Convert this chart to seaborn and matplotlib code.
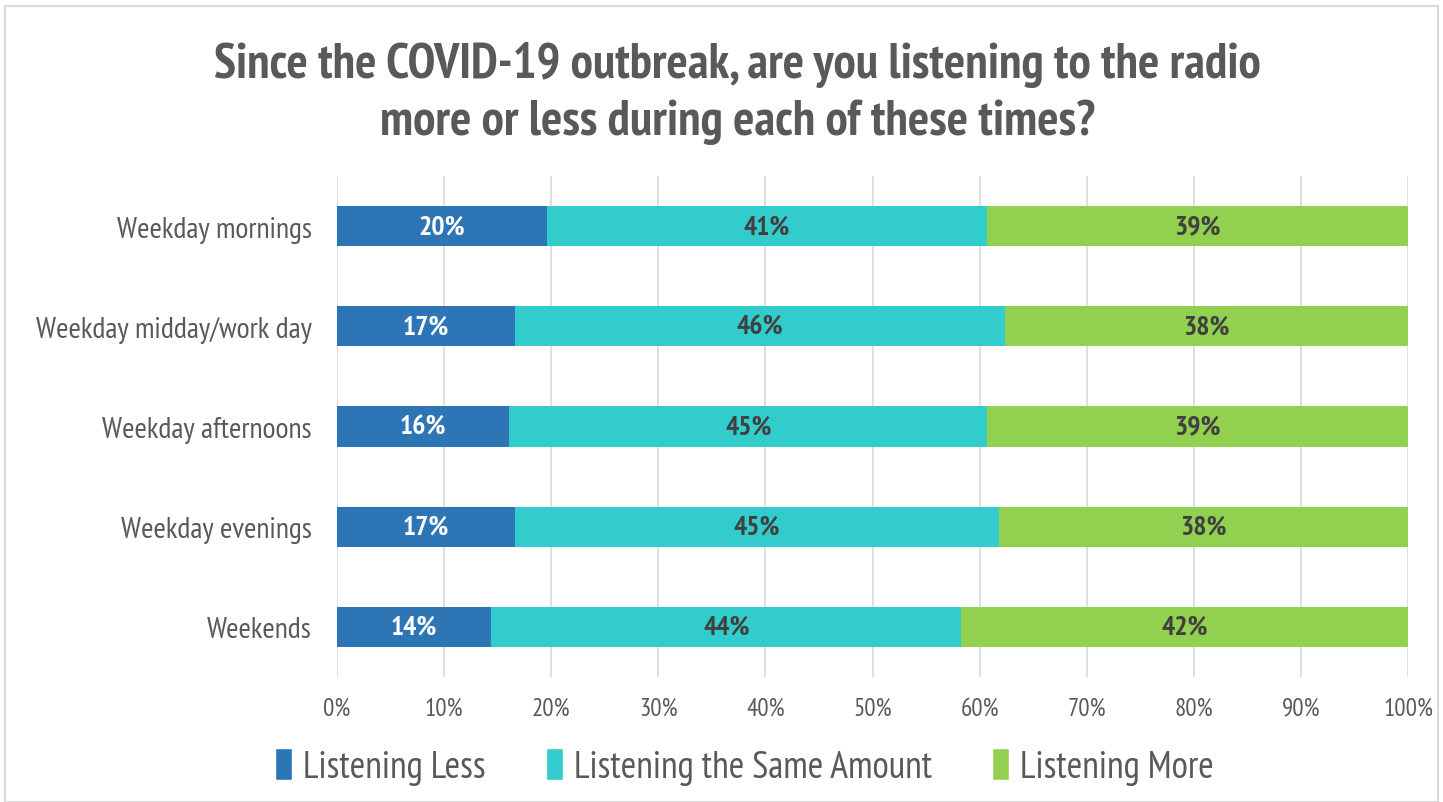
import pandas as pd
import numpy as np
import seaborn as sns
import matplotlib.pyplot as plt
from matplotlib.patches import Patch, Rectangle
from matplotlib import font_manager

# data
times = ['Weekday mornings', 'Weekday midday/work day', 'Weekday afternoons',
         'Weekday evenings', 'Weekends']
less = [19.6, 16.6, 16.1, 16.6, 14.4]
same = [41.1, 45.8, 44.6, 45.2, 43.9]
more = [39.3, 37.6, 39.3, 38.2, 41.7]
series = ['Listening Less', 'Listening the Same Amount', 'Listening More']
colors = ['#2E75B6', '#33CCCC', '#92D050']

sns.set_style('white')
names = {f.name for f in font_manager.fontManager.ttflist}
fam = 'DejaVu Sans'
for cand in ['PT Sans Narrow', 'Liberation Sans Narrow', 'Archivo Narrow', 'Roboto Condensed']:
    if cand in names:
        fam = cand
        break
plt.rcParams['font.family'] = [fam, 'DejaVu Sans']
gray = '#595959'

df = pd.DataFrame({'time': times, 'less': less, 'same': same, 'more': more})
df['c1'] = df['less']
df['c2'] = df['less'] + df['same']
df['c3'] = df['c2'] + df['more']

fig = plt.figure(figsize=(14.43, 8.03), dpi=100)
ax = fig.add_axes([337 / 1443, 1 - 678 / 803, 1071 / 1443, 501 / 803])

# stacked bars: draw the cumulative totals back to front
for col, c in zip(['c3', 'c2', 'c1'], colors[::-1]):
    sns.barplot(data=df, y='time', x=col, color=c, width=0.4, ax=ax,
                orient='h', saturation=1, linewidth=0)

for i in range(len(times)):
    starts = [0, df['c1'][i], df['c2'][i]]
    vals = [less[i], same[i], more[i]]
    for s, v, k in zip(starts, vals, range(3)):
        ax.text(s + v / 2, i, f'{round(v):.0f}%', ha='center', va='center',
                fontsize=20, fontweight='bold',
                color='white' if k == 0 else '#404040')

ax.set_xlim(0, 100)
ax.set_ylim(4.5, -0.5)
ax.set_xticks(np.arange(0, 101, 10))
ax.set_xticklabels([f'{t}%' for t in range(0, 101, 10)], fontsize=18, color=gray)
ax.tick_params(axis='x', length=0, pad=14)
ax.tick_params(axis='y', length=0, pad=18, labelsize=21.5, labelcolor=gray)
ax.set_xlabel('')
ax.set_ylabel('')
ax.grid(axis='x', color='#D9D9D9', linewidth=1.2)
ax.set_axisbelow(True)
for sp in ax.spines.values():
    sp.set_visible(False)

fig.suptitle('Since the COVID-19 outbreak, are you listening to the radio\n'
             'more or less during each of these times?',
             x=0.511, y=0.948, fontsize=36, fontweight='bold', color=gray,
             linespacing=1.32)

handles = [Patch(facecolor=c, label=s) for c, s in zip(colors, series)]
fig.legend(handles=handles, loc='center', bbox_to_anchor=(0.516, 0.044), ncol=3,
           frameon=False, fontsize=27, labelcolor=gray, handlelength=0.45,
           handleheight=0.9, handletextpad=0.3, columnspacing=1.6)

fig.patches.append(Rectangle((5 / 1443, 0), 1433 / 1443, 1 - 7 / 803,
                             transform=fig.transFigure, fill=False,
                             edgecolor='#D9D9D9', linewidth=1.5))

fig.savefig('out.png', dpi=100)
